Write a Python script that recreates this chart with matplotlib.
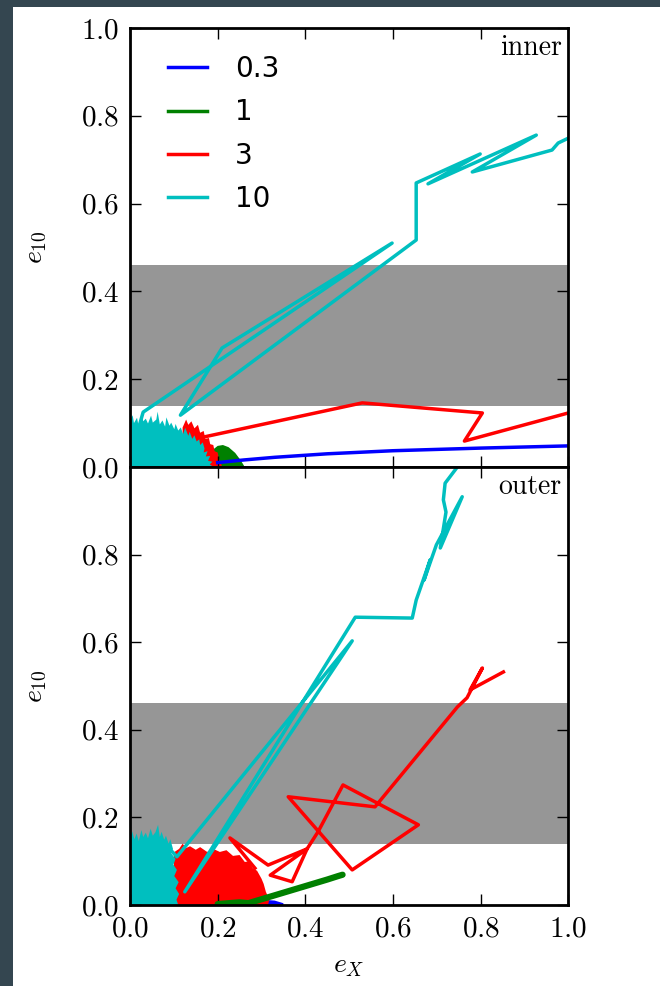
import numpy as np
import matplotlib.pyplot as plt
from matplotlib.patches import Rectangle

plt.rcParams['mathtext.fontset'] = 'cm'
plt.rcParams['font.family'] = 'serif'
plt.rcParams['font.serif'] = ['cmr10', 'DejaVu Serif']
plt.rcParams['axes.formatter.use_mathtext'] = True

labels = ['0.3', '1', '3', '10']
colors = ['#0000ff', '#008000', '#ff0000', '#00bfbf']
band = (0.14, 0.46)

# ---- inner orbit ----
inner_blue_x = [0.20, 0.26, 0.33, 0.45, 0.60, 0.80, 1.00]
inner_blue_y = [0.010, 0.016, 0.022, 0.030, 0.037, 0.043, 0.048]

inner_green_blob_x = [0.19, 0.19, 0.20, 0.212, 0.225, 0.24, 0.252, 0.26, 0.26]
inner_green_blob_y = [0.0, 0.040, 0.048, 0.050, 0.045, 0.032, 0.016, 0.003, 0.0]

inner_red_blob_x = [0.12, 0.12, 0.128, 0.133, 0.14, 0.147, 0.155, 0.16, 0.168, 0.172, 0.18,
                    0.183, 0.19, 0.193, 0.20, 0.203, 0.207, 0.21]
inner_red_blob_y = [0.0, 0.090, 0.108, 0.096, 0.104, 0.088, 0.096, 0.078, 0.082, 0.064, 0.066,
                    0.052, 0.050, 0.036, 0.033, 0.018, 0.012, 0.0]
inner_red_x = [0.16, 0.167, 0.530, 0.804, 0.763, 1.00]
inner_red_y = [0.07, 0.068, 0.146, 0.123, 0.059, 0.123]

inner_cyan_blob_x = [0.0, 0.0, 0.006, 0.009, 0.016, 0.019, 0.027, 0.030, 0.036, 0.041, 0.048,
                     0.052, 0.060, 0.063, 0.068, 0.074, 0.080, 0.083, 0.090, 0.094, 0.101,
                     0.104, 0.110, 0.116, 0.121, 0.126, 0.133, 0.136, 0.142, 0.147, 0.152,
                     0.158, 0.160, 0.166, 0.170, 0.168, 0.177, 0.173, 0.183, 0.178, 0.188,
                     0.182, 0.190]
inner_cyan_blob_y = [0.0, 0.104, 0.118, 0.100, 0.112, 0.096, 0.121, 0.104, 0.110, 0.099, 0.117,
                     0.101, 0.108, 0.126, 0.097, 0.106, 0.092, 0.113, 0.094, 0.101, 0.086,
                     0.098, 0.083, 0.090, 0.075, 0.089, 0.071, 0.080, 0.064, 0.072, 0.058,
                     0.063, 0.050, 0.056, 0.042, 0.033, 0.036, 0.024, 0.025, 0.014, 0.012,
                     0.006, 0.0]
inner_cyan_x = [0.02, 0.03, 0.598, 0.210, 0.115, 0.653, 0.653, 0.799, 0.680, 0.927, 0.781,
                0.963, 0.977, 1.00]
inner_cyan_y = [0.09, 0.125, 0.510, 0.271, 0.118, 0.517, 0.647, 0.713, 0.645, 0.756, 0.672,
                0.722, 0.738, 0.749]

# ---- outer orbit ----
outer_blue_blob_x = [0.24, 0.245, 0.27, 0.30, 0.33, 0.35, 0.35]
outer_blue_blob_y = [0.0, 0.006, 0.010, 0.012, 0.010, 0.004, 0.0]

outer_green_x = [0.20, 0.25, 0.27, 0.31, 0.36, 0.41, 0.45, 0.475, 0.485]
outer_green_y = [0.002, 0.006, 0.004, 0.016, 0.031, 0.046, 0.058, 0.066, 0.069]

outer_red_blob_x = [0.10, 0.10, 0.112, 0.12, 0.128, 0.137, 0.15, 0.16, 0.176, 0.19, 0.205, 0.22,
                    0.235, 0.25, 0.262, 0.272, 0.28, 0.29, 0.30, 0.305, 0.31, 0.318, 0.315]
outer_red_blob_y = [0.0, 0.120, 0.128, 0.140, 0.130, 0.134, 0.126, 0.132, 0.121, 0.128, 0.121,
                    0.125, 0.112, 0.114, 0.098, 0.100, 0.084, 0.078, 0.060, 0.048, 0.030,
                    0.012, 0.0]
outer_red_x = [0.285, 0.228, 0.315, 0.404, 0.370, 0.320, 0.404, 0.429, 0.486, 0.658, 0.507,
               0.361, 0.559, 0.747, 0.769, 0.804, 0.776, 0.852]
outer_red_y = [0.084, 0.153, 0.091, 0.128, 0.053, 0.068, 0.128, 0.167, 0.274, 0.183, 0.080,
               0.247, 0.224, 0.452, 0.473, 0.541, 0.491, 0.532]

outer_cyan_blob_x = [0.0, 0.0, 0.005, 0.010, 0.015, 0.020, 0.026, 0.030, 0.036, 0.041, 0.047,
                     0.052, 0.058, 0.064, 0.068, 0.072, 0.078, 0.082, 0.088, 0.092, 0.098,
                     0.094, 0.104, 0.099, 0.107, 0.101, 0.111, 0.104, 0.112, 0.106, 0.110]
outer_cyan_blob_y = [0.0, 0.152, 0.168, 0.150, 0.163, 0.146, 0.171, 0.155, 0.165, 0.152, 0.174,
                     0.158, 0.166, 0.183, 0.155, 0.167, 0.149, 0.158, 0.140, 0.150, 0.128,
                     0.118, 0.105, 0.092, 0.080, 0.066, 0.052, 0.038, 0.025, 0.012, 0.0]
outer_cyan_x = [0.07, 0.107, 0.507, 0.125, 0.514, 0.644, 0.653, 0.685, 0.671, 0.699, 0.758,
                0.708, 0.721, 0.715, 0.719, 0.747, 0.758]
outer_cyan_y = [0.15, 0.110, 0.603, 0.030, 0.657, 0.655, 0.696, 0.788, 0.742, 0.822, 0.932,
                0.815, 0.897, 0.925, 0.963, 1.000, 1.030]

fig = plt.figure(figsize=(6.6, 9.86), dpi=100)
ax1 = fig.add_axes([0.197, 0.5264, 0.664, 0.4452])
ax2 = fig.add_axes([0.197, 0.0822, 0.664, 0.4442])

lw = 2.5
for ax in (ax1, ax2):
    ax.axhspan(band[0], band[1], color='#969696', lw=0, zorder=0)

# inner panel
ax1.plot(inner_blue_x, inner_blue_y, color=colors[0], lw=lw, label=labels[0])
ax1.fill(inner_green_blob_x, inner_green_blob_y, color=colors[1], lw=0)
ax1.plot([], [], color=colors[1], lw=lw, label=labels[1])
ax1.fill(inner_red_blob_x, inner_red_blob_y, color=colors[2], lw=0)
ax1.plot(inner_red_x, inner_red_y, color=colors[2], lw=lw, label=labels[2])
ax1.fill(inner_cyan_blob_x, inner_cyan_blob_y, color=colors[3], lw=0)
ax1.plot(inner_cyan_x, inner_cyan_y, color=colors[3], lw=lw, label=labels[3])

# outer panel
ax2.fill(outer_blue_blob_x, outer_blue_blob_y, color=colors[0], lw=0)
ax2.plot(outer_green_x, outer_green_y, color=colors[1], lw=4.5, solid_capstyle='round')
ax2.fill(outer_red_blob_x, outer_red_blob_y, color=colors[2], lw=0)
ax2.plot(outer_red_x, outer_red_y, color=colors[2], lw=lw)
ax2.fill(outer_cyan_blob_x, outer_cyan_blob_y, color=colors[3], lw=0)
ax2.plot(outer_cyan_x, outer_cyan_y, color=colors[3], lw=lw)

for ax, name in ((ax1, 'inner'), (ax2, 'outer')):
    ax.set_xlim(0, 1)
    ax.set_ylim(0, 1)
    ax.set_xticks(np.arange(0, 1.01, 0.2))
    ax.tick_params(direction='in', top=True, right=True, length=8, width=1,
                   labelsize=21, pad=8)
    for sp in ax.spines.values():
        sp.set_linewidth(2)
    ax.text(0.985, 0.985, name, transform=ax.transAxes, ha='right', va='top', fontsize=20)
    ax.set_ylabel('$e_{10}$', fontsize=20)
    ax.yaxis.set_label_coords(-0.185, 0.5)

ax1.set_yticks(np.arange(0, 1.01, 0.2))
ax1.tick_params(labelbottom=False)
ax2.set_yticks(np.arange(0, 0.81, 0.2))
ax2.set_xlabel('$e_X$', fontsize=20)
ax2.xaxis.set_label_coords(0.5, -0.11)

ax1.legend(loc='upper left', bbox_to_anchor=(0.03, 0.995), frameon=False,
           prop={'family': 'DejaVu Sans', 'size': 20}, handlelength=1.4,
           handletextpad=1.0, labelspacing=0.55)

# dark frame strips along the left and top edges
fig.add_artist(Rectangle((0, 0), 13 / 660, 1, transform=fig.transFigure,
                         color='#344650', lw=0))
fig.add_artist(Rectangle((0, 1 - 7 / 986), 1, 7 / 986, transform=fig.transFigure,
                         color='#344650', lw=0))

fig.savefig('out.png', dpi=100)
